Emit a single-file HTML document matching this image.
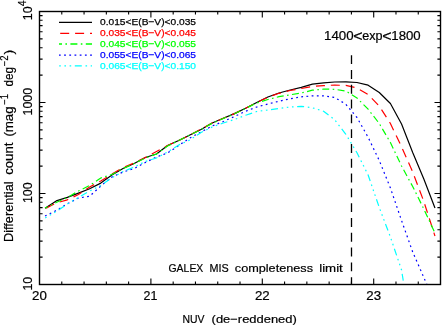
<!DOCTYPE html>
<html><head><meta charset="utf-8"><title>NUV differential counts</title>
<style>
html,body{margin:0;padding:0;background:#fff;}
body{width:442px;height:327px;overflow:hidden;}
svg{display:block;will-change:transform;}
text{font-family:"Liberation Sans",sans-serif;}
.k text{fill:#000;stroke:#000;stroke-width:0.2px;}
</style></head><body>
<svg width="442" height="327" viewBox="0 0 442 327">
<rect x="0" y="0" width="442" height="327" fill="#fff"/>
<defs><clipPath id="pc"><rect x="39.5" y="11.5" width="401" height="273"/></clipPath></defs>

<g clip-path="url(#pc)" fill="none" stroke-linejoin="round">
<path d="M45.07,208.20 L56.21,200.90 L67.35,197.40 L78.49,193.10 L89.63,188.70 L100.77,183.10 L111.91,175.00 L123.05,168.50 L134.19,163.50 L145.33,157.50 L156.47,154.00 L167.61,145.50 L178.75,140.50 L189.89,135.00 L201.03,129.50 L212.17,123.00 L223.31,118.30 L234.45,113.60 L245.59,108.30 L256.73,102.50 L267.87,97.00 L279.01,93.00 L290.15,90.00 L301.29,87.30 L312.43,84.20 L323.57,82.80 L334.71,82.00 L345.85,81.90 L356.99,82.50 L368.13,85.20 L379.27,92.50 L390.41,103.50 L401.55,124.00 L412.69,152.50 L423.83,179.00 L434.97,208.00" stroke="#000" stroke-width="1.2"/>
<path d="M45.07,208.80 L56.21,203.00 L67.35,199.80 L78.49,194.50 L89.63,187.00 L100.77,181.00 L111.91,174.00 L123.05,167.50 L134.19,163.00 L145.33,157.50 L156.47,151.50 L167.61,145.50 L178.75,140.50 L189.89,135.00 L201.03,129.00 L212.17,123.00 L223.31,118.30 L234.45,113.60 L245.59,108.30 L256.73,102.50 L267.87,97.20 L279.01,93.30 L290.15,90.50 L301.29,88.50 L312.43,86.40 L323.57,85.60 L334.71,85.10 L345.85,85.40 L356.99,88.00 L368.13,94.50 L379.27,106.00 L390.41,123.50 L401.55,146.80 L412.69,172.00 L423.83,201.50 L434.97,236.00" stroke="#f00" stroke-width="1.2" stroke-dasharray="9 5.9" stroke-dashoffset="13.7"/>
<path d="M45.07,208.00 L56.21,202.50 L67.35,197.50 L78.49,191.00 L89.63,185.50 L100.77,178.00 L111.91,174.50 L123.05,168.50 L134.19,163.50 L145.33,158.00 L156.47,154.00 L167.61,146.00 L178.75,140.50 L189.89,135.00 L201.03,129.50 L212.17,123.30 L223.31,118.50 L234.45,113.80 L245.59,108.50 L256.73,103.00 L267.87,99.50 L279.01,96.70 L290.15,94.80 L301.29,93.00 L312.43,90.20 L323.57,89.10 L334.71,89.30 L345.85,91.00 L356.99,98.00 L368.13,109.20 L379.27,123.50 L390.41,142.50 L401.55,166.00 L412.69,186.50 L423.83,209.00 L434.97,233.00" stroke="#0f0" stroke-width="1.2" stroke-dasharray="7 3.4 1.6 3.4" stroke-dashoffset="4"/>
<path d="M45.07,216.00 L56.21,210.50 L67.35,203.80 L78.49,198.00 L89.63,196.30 L100.77,186.00 L111.91,177.00 L123.05,172.00 L134.19,168.50 L145.33,162.50 L156.47,157.00 L167.61,153.00 L178.75,145.50 L189.89,138.00 L201.03,132.00 L212.17,126.00 L223.31,121.50 L234.45,116.50 L245.59,111.30 L256.73,107.00 L267.87,104.00 L279.01,101.20 L290.15,98.80 L301.29,96.80 L312.43,95.90 L323.57,95.90 L334.71,97.40 L345.85,104.30 L356.99,117.50 L368.13,137.30 L379.27,160.50 L390.41,188.00 L401.55,220.50 L412.69,252.00 L423.83,277.50 L434.97,303.00" stroke="#00f" stroke-width="1.2" stroke-dasharray="1.8 3.4" stroke-dashoffset="0.1"/>
<path d="M45.07,218.00 L56.21,211.50 L67.35,204.00 L78.49,197.50 L89.63,191.00 L100.77,185.50 L111.91,177.80 L123.05,171.50 L134.19,167.00 L145.33,161.50 L156.47,158.00 L167.61,152.00 L178.75,145.00 L189.89,140.00 L201.03,132.50 L212.17,127.00 L223.31,123.00 L234.45,119.50 L245.59,115.30 L256.73,111.50 L267.87,110.00 L279.01,108.50 L290.15,107.00 L301.29,106.30 L312.43,107.80 L323.57,111.20 L334.71,119.80 L345.85,134.30 L356.99,152.80 L368.13,175.00 L379.27,207.50 L390.41,237.00 L401.55,270.00 L412.69,340.00" stroke="#0ff" stroke-width="1.2" stroke-dasharray="7 3.7 1.6 3.6 1.6 3.6 1.6 3.6" stroke-dashoffset="10.5"/>
</g>
<path d="M351.5,55.2 L351.5,284.5" stroke="#000" stroke-width="1.3" stroke-dasharray="8.9 5.9" fill="none"/>
<rect x="39.5" y="11.5" width="401.0" height="273.0" fill="none" stroke="#000" stroke-width="1.4"/>
<path d="M61.78,284.5 v-3.1 M61.78,11.5 v3.1 M84.06,284.5 v-3.1 M84.06,11.5 v3.1 M106.34,284.5 v-3.1 M106.34,11.5 v3.1 M128.62,284.5 v-3.1 M128.62,11.5 v3.1 M150.90,284.5 v-6.0 M150.90,11.5 v6.0 M173.18,284.5 v-3.1 M173.18,11.5 v3.1 M195.46,284.5 v-3.1 M195.46,11.5 v3.1 M217.74,284.5 v-3.1 M217.74,11.5 v3.1 M240.02,284.5 v-3.1 M240.02,11.5 v3.1 M262.30,284.5 v-6.0 M262.30,11.5 v6.0 M284.58,284.5 v-3.1 M284.58,11.5 v3.1 M306.86,284.5 v-3.1 M306.86,11.5 v3.1 M329.14,284.5 v-3.1 M329.14,11.5 v3.1 M351.42,284.5 v-3.1 M351.42,11.5 v3.1 M373.70,284.5 v-6.0 M373.70,11.5 v6.0 M395.98,284.5 v-3.1 M395.98,11.5 v3.1 M418.26,284.5 v-3.1 M418.26,11.5 v3.1 M39.5,257.11 h3.1 M440.5,257.11 h-3.1 M39.5,241.08 h3.1 M440.5,241.08 h-3.1 M39.5,229.71 h3.1 M440.5,229.71 h-3.1 M39.5,220.89 h3.1 M440.5,220.89 h-3.1 M39.5,213.69 h3.1 M440.5,213.69 h-3.1 M39.5,207.60 h3.1 M440.5,207.60 h-3.1 M39.5,202.32 h3.1 M440.5,202.32 h-3.1 M39.5,197.66 h3.1 M440.5,197.66 h-3.1 M39.5,193.50 h6.0 M440.5,193.50 h-6.0 M39.5,166.11 h3.1 M440.5,166.11 h-3.1 M39.5,150.08 h3.1 M440.5,150.08 h-3.1 M39.5,138.71 h3.1 M440.5,138.71 h-3.1 M39.5,129.89 h3.1 M440.5,129.89 h-3.1 M39.5,122.69 h3.1 M440.5,122.69 h-3.1 M39.5,116.60 h3.1 M440.5,116.60 h-3.1 M39.5,111.32 h3.1 M440.5,111.32 h-3.1 M39.5,106.66 h3.1 M440.5,106.66 h-3.1 M39.5,102.50 h6.0 M440.5,102.50 h-6.0 M39.5,75.11 h3.1 M440.5,75.11 h-3.1 M39.5,59.08 h3.1 M440.5,59.08 h-3.1 M39.5,47.71 h3.1 M440.5,47.71 h-3.1 M39.5,38.89 h3.1 M440.5,38.89 h-3.1 M39.5,31.69 h3.1 M440.5,31.69 h-3.1 M39.5,25.60 h3.1 M440.5,25.60 h-3.1 M39.5,20.32 h3.1 M440.5,20.32 h-3.1 M39.5,15.66 h3.1 M440.5,15.66 h-3.1 M39.5,284.5 h6.0 M440.5,284.5 h-6.0 M39.5,11.5 h6.0 M440.5,11.5 h-6.0" stroke="#000" stroke-width="1.1" fill="none"/>
<path d="M59,22.3 L92,22.3" stroke="#000" stroke-width="1.3" fill="none"/>
<text x="100" y="25.0" font-size="9.8" fill="#000" stroke="#000" stroke-width="0.25" textLength="96" lengthAdjust="spacingAndGlyphs">0.015&lt;E(B−V)&lt;0.035</text>
<path d="M59,33.4 L92,33.4" stroke="#f00" stroke-width="1.3" stroke-dasharray="9 5.9" stroke-dashoffset="13.7" fill="none"/>
<text x="100" y="36.0" font-size="9.8" fill="#f00" stroke="#f00" stroke-width="0.25" textLength="96" lengthAdjust="spacingAndGlyphs">0.035&lt;E(B−V)&lt;0.045</text>
<path d="M59,44.0 L92,44.0" stroke="#0f0" stroke-width="1.3" stroke-dasharray="7 3.4 1.6 3.4" stroke-dashoffset="4" fill="none"/>
<text x="100" y="46.9" font-size="9.8" fill="#0f0" stroke="#0f0" stroke-width="0.25" textLength="96" lengthAdjust="spacingAndGlyphs">0.045&lt;E(B−V)&lt;0.055</text>
<path d="M59,55.1 L92,55.1" stroke="#00f" stroke-width="1.3" stroke-dasharray="1.8 3.4" stroke-dashoffset="0.1" fill="none"/>
<text x="100" y="57.8" font-size="9.8" fill="#00f" stroke="#00f" stroke-width="0.25" textLength="96" lengthAdjust="spacingAndGlyphs">0.055&lt;E(B−V)&lt;0.065</text>
<path d="M59,65.9 L92,65.9" stroke="#0ff" stroke-width="1.3" stroke-dasharray="7 3.7 1.6 3.6 1.6 3.6 1.6 3.6" stroke-dashoffset="10.5" fill="none"/>
<text x="100" y="68.7" font-size="9.8" fill="#0ff" stroke="#0ff" stroke-width="0.25" textLength="96" lengthAdjust="spacingAndGlyphs">0.065&lt;E(B−V)&lt;0.150</text>
<g class="k">
<text x="324.0" y="39.6" font-size="12" textLength="29.6" lengthAdjust="spacingAndGlyphs">1400</text>
<text x="353.2" y="40.6" font-size="14.5" textLength="9.4" lengthAdjust="spacingAndGlyphs">&lt;</text>
<text x="362.2" y="39.6" font-size="12" textLength="20.3" lengthAdjust="spacingAndGlyphs">exp</text>
<text x="382.3" y="40.6" font-size="14.5" textLength="9.4" lengthAdjust="spacingAndGlyphs">&lt;</text>
<text x="391.3" y="39.6" font-size="12" textLength="29.4" lengthAdjust="spacingAndGlyphs">1800</text>
<text x="168.5" y="271.6" font-size="11.7" textLength="34.8" lengthAdjust="spacingAndGlyphs">GALEX</text>
<text x="209.5" y="271.6" font-size="11.7" textLength="19.2" lengthAdjust="spacingAndGlyphs">MIS</text>
<text x="234.8" y="271.6" font-size="11.7" textLength="78.2" lengthAdjust="spacingAndGlyphs">completeness</text>
<text x="319.2" y="271.6" font-size="11.7" textLength="23.6" lengthAdjust="spacingAndGlyphs">limit</text>
<text x="32.1" y="299.5" font-size="12" textLength="14.8" lengthAdjust="spacingAndGlyphs">20</text>
<text x="143.5" y="299.5" font-size="12" textLength="13.8" lengthAdjust="spacingAndGlyphs">21</text>
<text x="254.9" y="299.5" font-size="12" textLength="14.8" lengthAdjust="spacingAndGlyphs">22</text>
<text x="366.3" y="299.5" font-size="12" textLength="14.8" lengthAdjust="spacingAndGlyphs">23</text>
<text x="182.4" y="323.2" font-size="11.7" textLength="22" lengthAdjust="spacingAndGlyphs">NUV</text>
<text x="211.6" y="323.2" font-size="11.7" textLength="85.2" lengthAdjust="spacingAndGlyphs">(de−reddened)</text>
<text transform="translate(32.2,290.6) rotate(-90)" font-size="12" textLength="13.9" lengthAdjust="spacingAndGlyphs">10</text>
<text transform="translate(32.2,203.1) rotate(-90)" font-size="12" textLength="20.8" lengthAdjust="spacingAndGlyphs">100</text>
<text transform="translate(32.2,115.5) rotate(-90)" font-size="12" textLength="27.7" lengthAdjust="spacingAndGlyphs">1000</text>
<text transform="translate(32.2,20.2) rotate(-90)" font-size="12"><tspan textLength="13.9" lengthAdjust="spacingAndGlyphs">10</tspan><tspan font-size="10.5" dy="-6">4</tspan></text>
<text transform="translate(13.2,242.0) rotate(-90)" font-size="12.3" textLength="60.6" lengthAdjust="spacingAndGlyphs">Differential</text>
<text transform="translate(13.2,174.8) rotate(-90)" font-size="12.3" textLength="32.2" lengthAdjust="spacingAndGlyphs">count</text>
<text transform="translate(13.2,136.6) rotate(-90)" font-size="12.3" textLength="30.2" lengthAdjust="spacingAndGlyphs">(mag</text>
<text transform="translate(7.6,104.8) rotate(-90)" font-size="10" textLength="10.8" lengthAdjust="spacingAndGlyphs">−1</text>
<text transform="translate(13.2,86.6) rotate(-90)" font-size="12.3" textLength="19.6" lengthAdjust="spacingAndGlyphs">deg</text>
<text transform="translate(7.6,66.2) rotate(-90)" font-size="10" textLength="10.8" lengthAdjust="spacingAndGlyphs">−2</text>
<text transform="translate(13.2,54.4) rotate(-90)" font-size="12.6" textLength="4.8" lengthAdjust="spacingAndGlyphs">)</text>
</g>
</svg></body></html>
